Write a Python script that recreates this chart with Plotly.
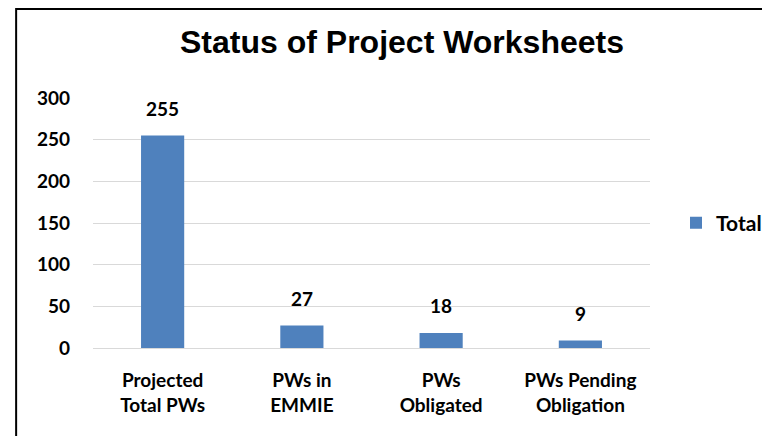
import plotly.graph_objects as go

categories = ["Projected<br>Total PWs", "PWs in<br>EMMIE", "PWs<br>Obligated", "PWs Pending<br>Obligation"]
values = [255, 27, 18, 9]
series_name = "Total"
y_ticks = [0, 50, 100, 150, 200, 250, 300]

BLUE = "#4F81BD"
FONT = "Lato"
W, H = 762, 428  # page body adds an 8px offset

fig = go.Figure()
fig.add_trace(go.Bar(
    x=categories, y=values, name=series_name,
    marker=dict(color=BLUE, line=dict(width=0)),
    width=0.31, showlegend=True,
))

for c, v in zip(categories, values):
    fig.add_annotation(x=c, y=v, text=f"<b>{v}</b>", showarrow=False,
                       yanchor="bottom", yshift=14,
                       font=dict(family=FONT, size=19, color="black"))

fig.add_shape(type="rect", xref="paper", yref="paper",
              x0=-0.138, x1=2, y0=-1, y1=1.356,
              line=dict(color="black", width=2), fillcolor="rgba(0,0,0,0)", layer="above")

fig.update_layout(
    width=W, height=H,
    margin=dict(l=85, r=120, t=90, b=88, autoexpand=False),
    paper_bgcolor="white", plot_bgcolor="white",
    title=dict(text="<b>Status of Project Worksheets</b>", x=394 / W, xanchor="center",
               y=1 - 34 / H, yanchor="middle",
               font=dict(family="Liberation Sans", size=32, color="black")),
    xaxis=dict(showline=True, linecolor="#D9D9D9", linewidth=1, ticks="",
               tickfont=dict(family=FONT, size=19, color="black", weight="bold"),
               ticklabelstandoff=15, automargin=False),
    yaxis=dict(range=[0, 300], tickvals=y_ticks, showgrid=True, gridcolor="#D9D9D9",
               gridwidth=1, zeroline=False, showline=False, ticks="",
               tickfont=dict(family=FONT, size=19, color="black", weight="bold"),
               ticklabelstandoff=22, automargin=False,
               tickformat="d"),
    legend=dict(x=(668 - 85) / 557, y=0.5, xanchor="left", yanchor="middle",
                font=dict(family=FONT, size=21, color="black", weight="bold"),
                itemwidth=30, bgcolor="rgba(0,0,0,0)"),
    bargap=0.69,
)

fig.write_html("out.html")
